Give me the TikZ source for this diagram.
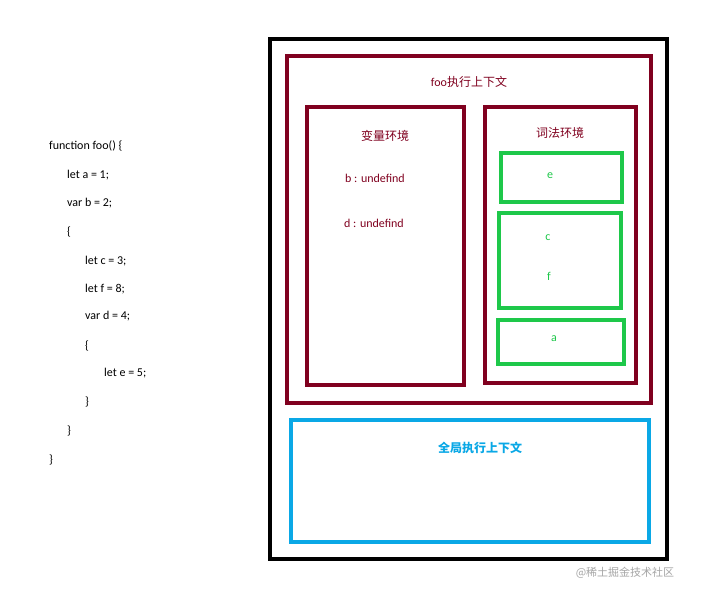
\documentclass[tikz,border=0pt]{standalone}
\usepackage{fontspec}
\setmainfont{Carlito}
\newfontfamily\cjk{Noto Sans CJK SC}
\definecolor{dred}{HTML}{80001F}
\definecolor{grn}{HTML}{1EC84A}
\definecolor{blu}{HTML}{0AA8E6}
\begin{document}
\begin{tikzpicture}[x=1pt,y=-1pt,
  box/.style={line width=3.5pt},
  code/.style={anchor=west,font=\fontsize{12}{14}\selectfont,inner sep=0pt},
  lbl/.style={font=\fontsize{12}{14}\selectfont,inner sep=0pt}]
\useasboundingbox[fill=white] (0,0) rectangle (710,599);
\draw[box,black] (270,39) rectangle (667,559);
\draw[box,dred] (287,56) rectangle (651,403);
\draw[box,dred] (307,107) rectangle (464,385);
\draw[box,dred] (485,107) rectangle (636,383);
\draw[box,grn] (501,153) rectangle (622,202);
\draw[box,grn] (499,213) rectangle (621,308);
\draw[box,grn] (498,320) rectangle (624,364);
\draw[box,blu] (291,420) rectangle (649,542);
\node[lbl,text=dred] (t1) at (469,82) {foo{\cjk 执行上下文}};
\node[lbl,text=dred] (t2) at (385,136) {\cjk 变量环境};
\node[lbl,text=dred] (t3) at (375,178) {b : undefind};
\node[lbl,text=dred] (t4) at (374,223) {d : undefind};
\node[lbl,text=dred] (t5) at (560,133) {\cjk 词法环境};
\node[lbl,text=grn] (e) at (550,176) {e};
\node[lbl,text=grn] (c) at (548,238) {c};
\node[lbl,text=grn] (f) at (549,276) {f};
\node[lbl,text=grn] (a) at (554,339) {a};
\node[lbl,text=blu,font=\cjk\bfseries\fontsize{12}{14}\selectfont] (g) at (480,448) {全局执行上下文};
\node[lbl,text=gray!70,font=\cjk\fontsize{11}{13}\selectfont] (w) at (625,573) {@稀土掘金技术社区};
\node[code] (l1) at (49,146) {function foo() \{};
\node[code] (l2) at (67,175) {let a = 1;};
\node[code] (l3) at (67,203) {var b = 2;};
\node[code] (l4) at (67,232) {\{};
\node[code] (l5) at (85,261) {let c = 3;};
\node[code] (l6) at (85,289) {let f = 8;};
\node[code] (l7) at (85,316) {var d = 4;};
\node[code] (l8) at (85,346) {\{};
\node[code] (l9) at (104,373) {let e = 5;};
\node[code] (l10) at (85,402) {\}};
\node[code] (l11) at (67,431) {\}};
\node[code] (l12) at (49,460) {\}};
\end{tikzpicture}
\end{document}
